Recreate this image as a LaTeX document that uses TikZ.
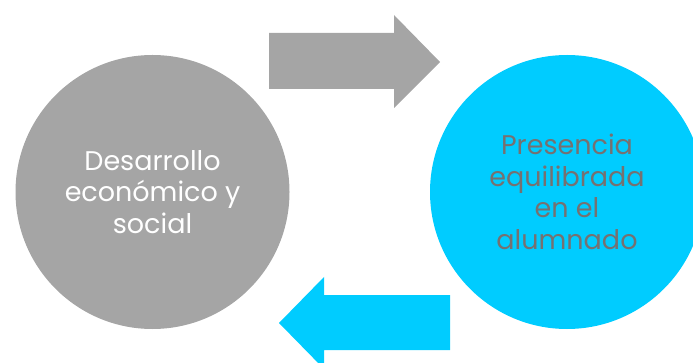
\documentclass[tikz,border=0pt]{standalone}
\usepackage{fontspec}
\setmainfont{Poppins}
\usepackage{xcolor}
\definecolor{grisC}{HTML}{A5A5A5}
\definecolor{azulC}{HTML}{00CCFF}
\definecolor{grisT}{HTML}{767171}
\tikzset{circulo/.style={circle,minimum size=274pt,inner sep=0pt,align=center,
  font=\fontsize{27}{31.5}\selectfont}}
\begin{document}
\begin{tikzpicture}[x=1pt,y=-1pt]
\useasboundingbox (0,0) rectangle (693,363);
\clip (0,0) rectangle (693,363);
\node[circulo,fill=grisC,text=white] (desarrollo) at (152.5,192) {Desarrollo\\económico y\\social};
\node[circulo,fill=azulC,text=grisT] (presencia) at (567,192) {Presencia\\equilibrada\\en el\\alumnado};
% flechas
\fill[grisC] (269,33) -- (394,33) -- (394,15) -- (440,62) -- (394,108) -- (394,89) -- (269,89) -- cycle;
\fill[azulC] (450,295) -- (324,295) -- (324,277) -- (279,323) -- (324,369) -- (324,350) -- (450,350) -- cycle;
\end{tikzpicture}
\end{document}
